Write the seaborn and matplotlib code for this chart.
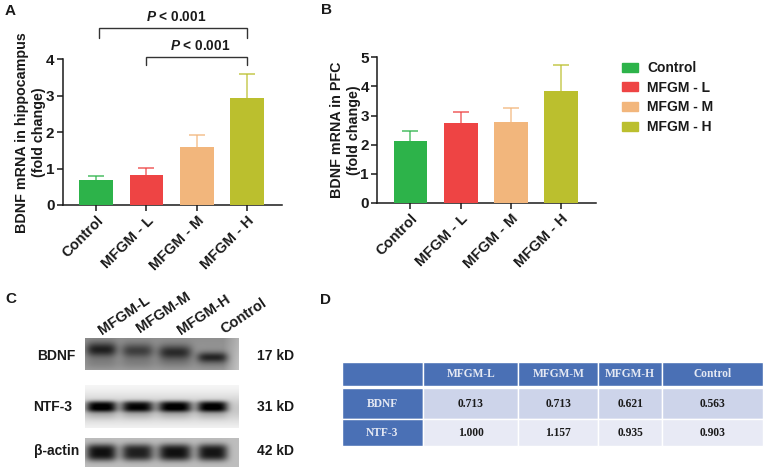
import numpy as np
import pandas as pd
import matplotlib
matplotlib.use("Agg")
import matplotlib.pyplot as plt
from matplotlib.patches import Patch
import seaborn as sns

groups = ["Control", "MFGM - L", "MFGM - M", "MFGM - H"]
colors = ["#2DB34A", "#EE4444", "#F2B67C", "#BBBF2E"]
hippo_mean = [0.69, 0.83, 1.60, 2.94]
hippo_top = [0.80, 1.01, 1.93, 3.60]
pfc_mean = [2.13, 2.73, 2.79, 3.85]
pfc_top = [2.46, 3.13, 3.27, 4.72]

blot_lanes = ["MFGM-L", "MFGM-M", "MFGM-H", "Control"]
lane_centres = [0.105, 0.34, 0.585, 0.83]
lane_widths = [0.10, 0.105, 0.11, 0.10]
bdnf_dark = [0.46, 0.34, 0.42, 0.42]
bdnf_pos = [0.36, 0.40, 0.45, 0.60]
ntf_dark = [0.80, 0.76, 0.80, 0.80]
actin_dark = [0.68, 0.62, 0.68, 0.66]

table_cols = ["", "MFGM-L", "MFGM-M", "MFGM-H", "Control"]
bdnf_row = ["BDNF", "0.713", "0.713", "0.621", "0.563"]
ntf_row = ["NTF-3", "1.000", "1.157", "0.935", "0.903"]

sns.set_theme(style="ticks")
F = "Liberation Sans"
plt.rcParams.update({
    "font.family": [F, "DejaVu Sans"],
    "font.weight": "bold",
    "axes.labelweight": "bold",
    "mathtext.fontset": "custom",
    "mathtext.bfit": f"{F}:italic:bold",
    "mathtext.bf": f"{F}:bold",
    "text.color": "#1a1a1a",
})
W, H = 767, 471
fig = plt.figure(figsize=(W / 100, H / 100), dpi=100, facecolor="white")


def px_axes(l, t, r, b):
    return fig.add_axes([l / W, 1 - b / H, (r - l) / W, (b - t) / H])


def bars(ax, means, tops, ymax, ylabel, pad):
    df = pd.DataFrame({"g": groups, "v": means})
    sns.barplot(data=df, x="g", y="v", hue="g", order=groups, hue_order=groups,
                palette=colors, width=0.67, saturation=1, legend=False, ax=ax,
                linewidth=0, zorder=3)
    for i, (m, t, c) in enumerate(zip(means, tops, colors)):
        ax.vlines(i, m, t, color=c, lw=1.1, alpha=0.8, zorder=2)
        ax.plot([i], [t], marker="_", ms=12.2, mew=1.1, color=c, alpha=0.85, zorder=2, clip_on=False)
    ax.set_xlim(-0.665, 3.69)
    ax.set_ylim(0, ymax)
    ax.set_yticks(range(ymax + 1))
    ax.set_xlabel("")
    ax.set_ylabel(ylabel, fontsize=10.3, labelpad=pad, linespacing=1.3, color="#1a1a1a")
    sns.despine(ax=ax)
    for s in ["left", "bottom"]:
        ax.spines[s].set_linewidth(1.1)
        ax.spines[s].set_color("#1a1a1a")
    ax.tick_params(axis="y", length=4.3, width=1.1, labelsize=11, pad=1.5, color="#1a1a1a", labelcolor="#1a1a1a")
    ax.tick_params(axis="x", length=4.3, width=1.1, labelsize=10.5, pad=2, color="#1a1a1a", labelcolor="#1a1a1a")
    for t in ax.get_xticklabels():
        t.set_rotation(45)
        t.set_ha("right")
        t.set_rotation_mode("anchor")


axA = px_axes(62.5, 59.3, 282, 205)
bars(axA, hippo_mean, hippo_top, 4, "BDNF mRNA in hippocampus\n(fold change)", -0.2)
axB = px_axes(377, 57.3, 596, 203)
bars(axB, pfc_mean, pfc_top, 5, "BDNF mRNA in PFC\n(fold change)", -0.5)

for x0, x1, top, low in [(0.06, 3.0, 4.86, 4.59), (1.0, 3.0, 4.07, 3.84)]:
    axA.plot([x0, x0, x1, x1], [low, top, top, low], color="#333333", lw=1.0,
             clip_on=False, solid_joinstyle="miter")
axA.text(1.6, 5.17, r"$\mathbfit{P}$ < 0.001", ha="center", va="center", fontsize=9.8, clip_on=False)
axA.text(2.06, 4.37, r"$\mathbfit{P}$ < 0.001", ha="center", va="center", fontsize=9.8, clip_on=False)

fig.legend(handles=[Patch(color=c, label=g) for g, c in zip(groups, colors)],
           loc="upper left", bbox_to_anchor=(622 / W, 1 - 61 / H), frameon=False,
           fontsize=10, handlelength=1.15, handleheight=0.6, handletextpad=0.65,
           labelspacing=0.41, borderaxespad=0, borderpad=0)


def text_px(x, y, s, **kw):
    fig.text(x / W, 1 - y / H, s, **kw)


for s, x, y in [("A", 5, 11), ("B", 321, 10), ("C", 5, 299), ("D", 320, 300)]:
    text_px(x, y, s, fontsize=11, va="center", ha="left")


def blot(box, bg, bandfn):
    ax = px_axes(*box)
    h, w = int(box[3] - box[1]), int(box[2] - box[0])
    yy, xx = np.mgrid[0:1:h * 1j, 0:1:w * 1j]
    img = bg(xx, yy) - bandfn(xx, yy)
    sns.heatmap(np.clip(img, 0, 1), ax=ax, cmap="gray", vmin=0, vmax=1, cbar=False,
                xticklabels=False, yticklabels=False, rasterized=True)
    ax.set_xlabel(""); ax.set_ylabel("")


def lane(xx, c, w):
    return np.exp(-(np.abs(xx - c) / w) ** 4)


def bdnf_bands(xx, yy):
    out = np.zeros_like(xx)
    for c, w, d, p in zip(lane_centres, lane_widths, bdnf_dark, bdnf_pos):
        out += d * lane(xx, c, w) * np.exp(-((yy - p) / (0.24 if p < 0.5 else 0.17)) ** 2)
        out += 0.09 * lane(xx, c, w * 1.1) * np.exp(-((yy - 0.8) / 0.2) ** 2)
    return out


def ntf_bands(xx, yy):
    out = np.zeros_like(xx)
    for c, w, d in zip(lane_centres, lane_widths, ntf_dark):
        out += d * lane(xx, c, w) * np.exp(-(np.abs(yy - 0.5) / 0.13) ** 3)
        out += 0.12 * lane(xx, c, w) * np.exp(-((yy - 0.68) / 0.12) ** 2)
    return out


def actin_bands(xx, yy):
    out = np.zeros_like(xx)
    for c, w, d in zip(lane_centres, lane_widths, actin_dark):
        out += d * lane(xx, c, w) * np.exp(-(np.abs(yy - 0.5) / 0.30) ** 3)
    return out


blot((85, 338, 239, 370),
     lambda x, y: 0.56 + 0.14 * np.clip((x - 0.9) * 10, 0, 1) + 0.06 * y, bdnf_bands)
blot((85, 385, 239, 428),
     lambda x, y: 0.98 - 0.2 * np.exp(-((y - 0.55) / 0.36) ** 2), ntf_bands)
blot((85, 438, 239, 467), lambda x, y: 0.74 + 0 * x, actin_bands)

for s, x, y in [("BDNF", 76, 356), ("NTF-3", 72, 407), ("β-actin", 79, 451)]:
    text_px(x, y, s, fontsize=10, ha="right", va="center")
for s, y in [("17 kD", 356), ("31 kD", 407), ("42 kD", 451)]:
    text_px(257, y, s, fontsize=10, ha="left", va="center")
for s, x, y in zip(blot_lanes, [100, 138, 179, 222], [332, 330, 332, 331]):
    text_px(x, y, s, fontsize=10.5, rotation=34, ha="left", va="center", rotation_mode="anchor")

# table D
axT = px_axes(341.7, 362.3, 763.3, 446)
axT.axis("off")
col_w = np.array([245, 285, 240, 192, 303], float)
col_w /= col_w.sum()
rows = [table_cols, [""] * 5, bdnf_row, ntf_row]
row_h = np.array([70, 8, 93, 80], float)
row_h /= row_h.sum()
tb = axT.table(cellText=rows, colWidths=list(col_w), loc="center", bbox=[0, 0, 1, 1], cellLoc="center")
tb.auto_set_font_size(False)
tb.set_fontsize(8.3)
for (r, c), cell in tb.get_celld().items():
    cell.set_height(row_h[r])
    cell.set_edgecolor("white")
    cell.set_linewidth(1.0)
    txt = cell.get_text()
    txt.set_fontfamily("Liberation Serif")
    txt.set_fontweight("bold")
    if r == 1:
        cell.set_facecolor("white")
        cell.set_linewidth(0)
    elif r == 0 or c == 0:
        cell.set_facecolor("#4A70B5")
        txt.set_color("#E4E8F3")
    elif r == 2:
        cell.set_facecolor("#CDD4EA")
        txt.set_color("#1a1a1a")
    else:
        cell.set_facecolor("#E8EAF5")
        txt.set_color("#1a1a1a")

fig.savefig("out.png", dpi=100, facecolor="white")
